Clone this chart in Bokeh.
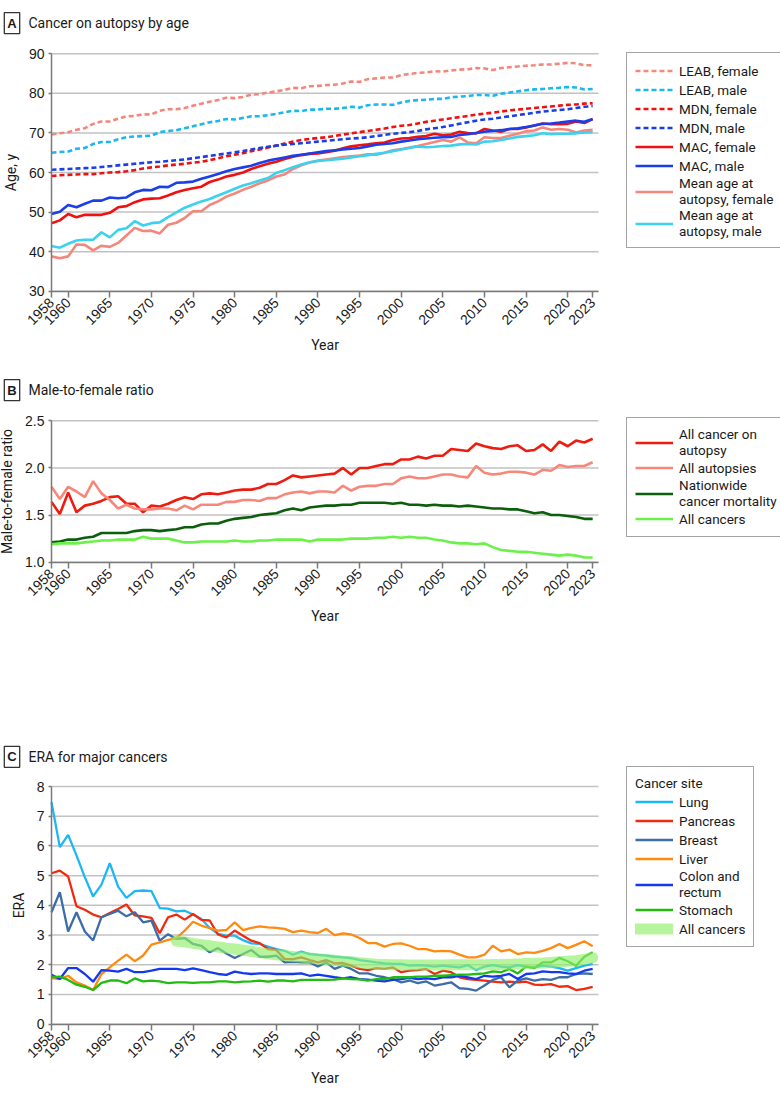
import math
from bokeh.plotting import figure
from bokeh.layouts import column
from bokeh.models import (Range1d, FixedTicker, Legend, LegendItem, Label, LinearAxis,
                          PrintfTickFormatter)
from bokeh.embed import file_html
from bokeh.resources import INLINE

# ---------------- data ----------------
years = list(range(1958, 2024))
x_ticks = [1958, 1960, 1965, 1970, 1975, 1980, 1985, 1990, 1995, 2000, 2005, 2010, 2015, 2020, 2023]

# Panel A: ages (y)
leab_female = [69.6, 69.9, 70.2, 70.8, 71.2, 72.3, 72.9, 72.9, 73.6, 74.2, 74.3, 74.7, 74.7, 75.6, 76.0, 76.0,
               76.3, 76.9, 77.4, 77.9, 78.3, 78.9, 78.8, 79.1, 79.7, 79.8, 80.2, 80.5, 80.9, 81.4, 81.3, 81.8,
               81.9, 82.1, 82.2, 82.5, 83.0, 82.9, 83.6, 83.8, 84.0, 84.0, 84.6, 84.9, 85.2, 85.3, 85.6, 85.5,
               85.8, 86.0, 86.1, 86.4, 86.3, 85.9, 86.4, 86.6, 86.8, 87.0, 87.1, 87.3, 87.3, 87.5, 87.7, 87.6,
               87.1, 87.1]
leab_male = [65.0, 65.2, 65.3, 66.0, 66.2, 67.2, 67.7, 67.7, 68.4, 68.9, 69.1, 69.2, 69.3, 70.2, 70.5, 70.7,
             71.2, 71.7, 72.2, 72.7, 73.0, 73.5, 73.4, 73.8, 74.2, 74.2, 74.5, 74.8, 75.2, 75.6, 75.5, 75.9,
             75.9, 76.1, 76.1, 76.3, 76.6, 76.4, 77.0, 77.2, 77.2, 77.1, 77.7, 78.1, 78.3, 78.4, 78.6, 78.6,
             79.0, 79.2, 79.3, 79.6, 79.6, 79.4, 79.9, 80.2, 80.5, 80.8, 81.0, 81.1, 81.3, 81.4, 81.6, 81.5,
             81.0, 81.1]
mdn_female = [59.1, 59.3, 59.4, 59.5, 59.6, 59.6, 59.8, 60.0, 60.1, 60.3, 60.6, 61.0, 61.3, 61.5, 61.8, 62.0,
              62.2, 62.5, 62.7, 63.1, 63.6, 64.1, 64.5, 64.9, 65.4, 65.8, 66.3, 66.8, 67.3, 67.8, 68.2, 68.5,
              68.7, 68.9, 69.2, 69.6, 69.9, 70.2, 70.5, 70.8, 71.1, 71.5, 71.8, 72.0, 72.4, 72.8, 73.1, 73.4,
              73.7, 74.0, 74.3, 74.6, 74.9, 75.1, 75.4, 75.7, 75.9, 76.1, 76.3, 76.5, 76.7, 76.9, 77.1, 77.2,
              77.4, 77.5]
mdn_male = [60.7, 60.8, 60.9, 61.0, 61.1, 61.2, 61.4, 61.6, 61.8, 62.0, 62.2, 62.4, 62.6, 62.7, 62.9, 63.1,
            63.3, 63.6, 63.9, 64.2, 64.5, 64.8, 65.1, 65.4, 65.8, 66.2, 66.5, 66.8, 67.0, 67.2, 67.4, 67.6,
            67.8, 68.0, 68.2, 68.4, 68.6, 68.7, 68.9, 69.2, 69.5, 69.8, 70.0, 70.2, 70.5, 70.9, 71.2, 71.5,
            71.9, 72.3, 72.7, 73.1, 73.4, 73.6, 73.9, 74.2, 74.5, 74.8, 75.1, 75.4, 75.6, 75.8, 76.0, 76.3,
            76.6, 76.8]
mac_female = [47.2, 47.9, 49.5, 48.7, 49.3, 49.3, 49.3, 49.8, 51.2, 51.5, 52.5, 53.2, 53.4, 53.5, 54.2, 55.0,
              55.6, 56.0, 56.4, 57.6, 58.2, 59.0, 59.4, 60.0, 60.9, 61.6, 62.2, 62.7, 63.4, 64.0, 64.4, 64.7,
              64.8, 65.1, 65.5, 66.1, 66.6, 66.9, 67.1, 67.4, 67.6, 68.2, 68.6, 68.7, 69.0, 69.2, 69.8, 69.4,
              69.6, 70.3, 70.0, 69.9, 71.0, 70.6, 70.3, 71.0, 71.0, 71.4, 71.9, 72.4, 72.2, 72.2, 72.3, 72.9,
              72.5, 73.5]
mac_male = [49.5, 50.1, 51.8, 51.2, 52.1, 52.9, 52.9, 53.7, 53.5, 53.7, 55.0, 55.6, 55.5, 56.4, 56.3, 57.4,
            57.5, 57.7, 58.4, 59.0, 59.6, 60.3, 60.9, 61.3, 61.7, 62.4, 63.0, 63.4, 63.8, 64.2, 64.5, 64.8,
            65.1, 65.4, 65.6, 65.8, 66.0, 66.2, 66.6, 67.0, 67.2, 67.4, 67.8, 68.1, 68.4, 68.6, 68.8, 68.9,
            69.0, 69.5, 69.7, 70.0, 70.3, 70.5, 70.7, 71.0, 71.2, 71.5, 71.9, 72.3, 72.4, 72.6, 72.9, 73.1,
            72.8, 73.5]
mean_age_female = [38.8, 38.3, 38.8, 41.8, 41.7, 40.3, 41.5, 41.2, 42.2, 44.1, 46.0, 45.2, 45.3, 44.6, 46.8, 47.3,
                   48.5, 50.2, 50.2, 51.8, 52.7, 53.9, 54.7, 55.6, 56.4, 57.3, 58.0, 59.0, 59.5, 60.9, 61.8, 62.5,
                   63.0, 63.3, 63.6, 63.9, 64.1, 64.3, 64.6, 64.5, 65.0, 65.6, 65.9, 66.3, 66.7, 67.2, 67.7, 68.2,
                   67.8, 68.9, 67.6, 67.4, 68.9, 68.7, 68.7, 69.3, 69.8, 70.4, 70.6, 71.4, 70.8, 71.0, 70.8, 70.1,
                   70.6, 70.8]
mean_age_male = [41.4, 41.0, 42.0, 42.8, 43.0, 43.0, 44.9, 43.6, 45.5, 45.9, 47.7, 46.6, 47.2, 47.4, 48.7, 49.9,
                 51.1, 51.9, 52.7, 53.3, 54.2, 55.0, 55.9, 56.7, 57.3, 58.0, 58.6, 59.9, 60.6, 61.3, 62.0, 62.6,
                 62.9, 63.1, 63.3, 63.5, 63.8, 64.1, 64.4, 64.7, 65.0, 65.4, 65.8, 66.2, 66.6, 66.4, 66.5, 66.7,
                 66.8, 67.1, 67.2, 67.1, 67.8, 67.9, 68.2, 68.6, 69.0, 69.2, 69.4, 69.9, 69.7, 69.8, 69.8, 69.9,
                 70.1, 70.2]

# Panel B: male-to-female ratio
ratio_cancer_autopsy = [1.64, 1.51, 1.74, 1.53, 1.60, 1.62, 1.65, 1.69, 1.70, 1.62, 1.62, 1.53, 1.60, 1.59, 1.62, 1.66,
                        1.69, 1.67, 1.72, 1.73, 1.72, 1.74, 1.76, 1.77, 1.77, 1.79, 1.83, 1.83, 1.87, 1.92, 1.90, 1.91,
                        1.92, 1.93, 1.94, 2.00, 1.93, 2.00, 2.00, 2.02, 2.04, 2.04, 2.09, 2.09, 2.12, 2.10, 2.13, 2.13,
                        2.20, 2.19, 2.18, 2.26, 2.23, 2.21, 2.20, 2.23, 2.24, 2.18, 2.19, 2.25, 2.18, 2.28, 2.23, 2.29,
                        2.27, 2.31]
ratio_all_autopsies = [1.80, 1.67, 1.80, 1.75, 1.69, 1.86, 1.73, 1.66, 1.57, 1.61, 1.57, 1.56, 1.56, 1.57, 1.57, 1.55,
                       1.60, 1.56, 1.61, 1.61, 1.61, 1.64, 1.64, 1.66, 1.66, 1.65, 1.68, 1.68, 1.72, 1.74, 1.75, 1.73,
                       1.75, 1.75, 1.74, 1.81, 1.76, 1.80, 1.81, 1.81, 1.83, 1.83, 1.89, 1.91, 1.89, 1.89, 1.91, 1.93,
                       1.93, 1.91, 1.90, 2.02, 1.95, 1.93, 1.94, 1.96, 1.96, 1.95, 1.93, 1.98, 1.97, 2.03, 2.01, 2.02,
                       2.02, 2.06]
ratio_nationwide = [1.21, 1.22, 1.24, 1.24, 1.26, 1.27, 1.31, 1.31, 1.31, 1.31, 1.33, 1.34, 1.34, 1.33, 1.34, 1.35,
                    1.37, 1.37, 1.40, 1.41, 1.41, 1.44, 1.46, 1.47, 1.48, 1.50, 1.51, 1.52, 1.55, 1.57, 1.55, 1.58,
                    1.59, 1.60, 1.60, 1.61, 1.61, 1.63, 1.63, 1.63, 1.63, 1.62, 1.63, 1.61, 1.61, 1.60, 1.61, 1.60,
                    1.60, 1.59, 1.60, 1.59, 1.58, 1.57, 1.57, 1.56, 1.56, 1.54, 1.52, 1.53, 1.50, 1.50, 1.49, 1.48,
                    1.46, 1.46]
ratio_all_cancers = [1.19, 1.20, 1.20, 1.20, 1.21, 1.22, 1.23, 1.23, 1.24, 1.24, 1.24, 1.27, 1.25, 1.25, 1.25, 1.23,
                     1.21, 1.21, 1.22, 1.22, 1.22, 1.22, 1.23, 1.22, 1.22, 1.23, 1.23, 1.24, 1.24, 1.24, 1.24, 1.22,
                     1.24, 1.24, 1.24, 1.24, 1.25, 1.25, 1.25, 1.26, 1.26, 1.27, 1.26, 1.27, 1.26, 1.26, 1.24, 1.23,
                     1.21, 1.20, 1.20, 1.19, 1.20, 1.16, 1.13, 1.12, 1.11, 1.11, 1.10, 1.09, 1.08, 1.07, 1.08, 1.07,
                     1.05, 1.05]

# Panel C: ERA
era_lung = [7.47, 5.96, 6.37, 5.68, 4.95, 4.30, 4.70, 5.42, 4.63, 4.25, 4.48, 4.50, 4.48, 3.91, 3.89, 3.80,
            3.82, 3.69, 3.54, 3.24, 3.04, 2.98, 2.98, 2.83, 2.72, 2.70, 2.61, 2.53, 2.47, 2.34, 2.44, 2.36,
            2.33, 2.31, 2.27, 2.25, 2.22, 2.16, 2.12, 2.08, 2.05, 2.03, 2.03, 1.97, 1.99, 1.97, 1.94, 1.97,
            1.94, 1.91, 1.99, 1.82, 1.94, 1.99, 1.94, 1.91, 1.99, 1.94, 1.91, 1.97, 1.94, 1.89, 1.80, 1.89,
            1.97, 2.03]
era_pancreas = [5.08, 5.17, 4.97, 3.97, 3.85, 3.69, 3.60, 3.74, 3.88, 4.03, 3.66, 3.63, 3.58, 3.06, 3.60, 3.69,
                3.52, 3.71, 3.51, 3.49, 3.02, 2.92, 3.15, 2.98, 2.81, 2.73, 2.53, 2.50, 2.19, 2.19, 2.25, 2.16,
                2.08, 2.16, 2.05, 2.06, 1.97, 1.86, 1.82, 1.89, 1.86, 1.91, 1.75, 1.80, 1.82, 1.86, 1.69, 1.80,
                1.75, 1.58, 1.52, 1.49, 1.47, 1.43, 1.41, 1.43, 1.41, 1.43, 1.33, 1.32, 1.35, 1.26, 1.28, 1.15,
                1.19, 1.26]
era_breast = [3.77, 4.44, 3.12, 3.77, 3.12, 2.82, 3.60, 3.71, 3.82, 3.63, 3.77, 3.43, 3.49, 2.81, 3.03, 2.87,
              2.90, 2.70, 2.64, 2.42, 2.56, 2.38, 2.23, 2.36, 2.50, 2.27, 2.27, 2.31, 2.08, 2.10, 2.08, 2.08,
              1.94, 2.08, 1.86, 1.97, 1.86, 1.71, 1.71, 1.63, 1.58, 1.52, 1.41, 1.47, 1.38, 1.44, 1.30, 1.35,
              1.41, 1.21, 1.19, 1.13, 1.30, 1.49, 1.58, 1.24, 1.47, 1.54, 1.47, 1.52, 1.49, 1.58, 1.58, 1.69,
              1.71, 1.69]
era_liver = [1.55, 1.52, 1.63, 1.41, 1.30, 1.15, 1.69, 1.91, 2.14, 2.34, 2.12, 2.31, 2.68, 2.75, 2.84, 2.90,
             3.15, 3.45, 3.32, 3.23, 3.15, 3.17, 3.43, 3.17, 3.24, 3.29, 3.26, 3.24, 3.21, 3.10, 3.15, 3.10,
             3.07, 3.21, 3.00, 3.06, 3.02, 2.90, 2.73, 2.73, 2.61, 2.70, 2.72, 2.64, 2.53, 2.53, 2.45, 2.47,
             2.45, 2.34, 2.25, 2.25, 2.34, 2.64, 2.45, 2.51, 2.36, 2.42, 2.40, 2.47, 2.56, 2.70, 2.56, 2.67,
             2.79, 2.62]
era_colon = [1.66, 1.52, 1.89, 1.89, 1.69, 1.43, 1.82, 1.80, 1.77, 1.86, 1.75, 1.75, 1.80, 1.86, 1.86, 1.86,
             1.82, 1.88, 1.82, 1.75, 1.69, 1.66, 1.77, 1.72, 1.69, 1.71, 1.71, 1.69, 1.69, 1.69, 1.71, 1.63,
             1.67, 1.63, 1.58, 1.54, 1.58, 1.52, 1.50, 1.47, 1.44, 1.49, 1.52, 1.56, 1.52, 1.54, 1.52, 1.58,
             1.58, 1.63, 1.58, 1.52, 1.63, 1.60, 1.63, 1.69, 1.52, 1.69, 1.71, 1.78, 1.75, 1.75, 1.71, 1.69,
             1.80, 1.86]
era_stomach = [1.58, 1.60, 1.49, 1.33, 1.26, 1.15, 1.39, 1.47, 1.47, 1.38, 1.54, 1.44, 1.47, 1.44, 1.38, 1.41,
               1.41, 1.39, 1.41, 1.41, 1.44, 1.44, 1.41, 1.43, 1.44, 1.47, 1.43, 1.47, 1.47, 1.44, 1.49, 1.49,
               1.49, 1.49, 1.50, 1.54, 1.52, 1.51, 1.47, 1.52, 1.52, 1.58, 1.58, 1.58, 1.60, 1.60, 1.63, 1.63,
               1.65, 1.67, 1.67, 1.69, 1.71, 1.78, 1.75, 1.86, 1.71, 1.94, 1.89, 2.08, 2.08, 2.23, 2.12, 1.97,
               2.27, 2.42]
era_all_years = list(range(1973, 2024))
era_all_cancers = [2.80, 2.77, 2.72, 2.68, 2.64, 2.60, 2.56, 2.53, 2.49, 2.45, 2.41, 2.37, 2.34, 2.31, 2.28, 2.26,
                   2.23, 2.20, 2.18, 2.15, 2.12, 2.10, 2.07, 2.04, 2.02, 2.01, 2.00, 2.00, 1.99, 1.99, 1.99, 1.99,
                   1.99, 2.00, 2.00, 2.00, 2.00, 2.00, 2.01, 2.01, 2.02, 2.03, 2.04, 2.05, 2.06, 2.08, 2.10, 2.12,
                   2.14, 2.18, 2.24]

# ---------------- layout & styling ----------------
TXT = "Roboto"
NUM = "Liberation Sans"
INK = "#1a1a1a"
X_START, X_END = 1958, 2023.7          # plotted year span
AX_LEFT, AX_RIGHT = 51, 598            # pixel position of the plotted span
K = (AX_RIGHT - AX_LEFT) / (X_END - X_START)
X0 = X_START - AX_LEFT / K
X1 = X_START + (780 - AX_LEFT) / K


class Panel:
    def __init__(self, height, top_px, bottom_px, ylo, yhi, yticks, ylabel, fmt=None):
        self.h = height
        self.ky = (bottom_px - top_px) / (yhi - ylo)
        self.ytop = yhi + top_px / self.ky
        p = figure(width=780, height=height, output_backend="svg", toolbar_location=None,
                   x_range=Range1d(X0, X1), y_range=Range1d(ylo - (height - bottom_px) / self.ky, self.ytop),
                   x_axis_location=None, y_axis_location=None, min_border=0)
        p.outline_line_color = None
        p.xgrid.visible = False
        p.ygrid.visible = False
        n = len(yticks)
        p.segment(x0=[X_START] * n, x1=[X_END] * n, y0=yticks, y1=yticks,
                  line_color="#c2c2c2", line_width=1.5)
        xa = LinearAxis(fixed_location=ylo, bounds=(X_START, X_END), ticker=FixedTicker(ticks=x_ticks),
                        axis_label="Year", major_label_orientation=math.pi / 4)
        ya = LinearAxis(fixed_location=X_START, bounds=(ylo, yhi), ticker=FixedTicker(ticks=yticks),
                        axis_label=ylabel)
        if fmt:
            ya.formatter = PrintfTickFormatter(format=fmt)
        for ax in (xa, ya):
            ax.axis_line_color = "#7a7a7a"
            ax.axis_line_width = 1.5
            ax.major_tick_line_color = "#7a7a7a"
            ax.major_tick_line_width = 1.5
            ax.minor_tick_line_color = None
            ax.major_tick_in = 0
            ax.major_label_text_font = NUM
            ax.major_label_text_font_size = "14px"
            ax.major_label_text_color = INK
            ax.axis_label_text_font = TXT
            ax.axis_label_text_font_size = "14px"
            ax.axis_label_text_font_style = "normal"
            ax.axis_label_text_color = INK
        xa.major_tick_out = 6
        ya.major_tick_out = 3
        xa.major_label_standoff = 3
        ya.major_label_standoff = 4
        xa.axis_label_standoff = 4
        ya.axis_label_standoff = 7
        p.add_layout(xa, "below")
        p.add_layout(ya, "left")
        self.p = p

    def xd(self, px):
        return X0 + px / K

    def yd(self, py):
        return self.ytop - py / self.ky

    def title(self, cy, letter, text):
        self.p.add_layout(Label(x=self.xd(11.5), y=self.yd(cy), text=letter, text_align="center",
                                text_baseline="middle", text_font=NUM, text_font_style="bold",
                                text_font_size="13px", text_color=INK, border_line_color="#333333",
                                border_line_width=1.3, background_fill_color="white", padding=3))
        self.p.add_layout(Label(x=self.xd(28), y=self.yd(cy), text=text, text_align="left",
                                text_baseline="middle", text_font=TXT, text_font_size="14px",
                                text_color=INK))

    def legend(self, pairs, left_px, bottom_px, title=None):
        leg = Legend(items=[LegendItem(label=l, renderers=[r]) for l, r in pairs],
                     location=(left_px, self.h - bottom_px), orientation="vertical",
                     padding=8, spacing=0, margin=0,
                     glyph_width=38, glyph_height=19, label_height=19, label_standoff=6,
                     label_text_font=TXT, label_text_font_size="13.5px", label_text_color=INK,
                     label_text_line_height=1.15,
                     border_line_color="#4a4a4a", border_line_width=1.2, background_fill_alpha=1.0)
        if title:
            leg.title = title
            leg.title_text_font = TXT
            leg.title_text_font_size = "13.5px"
            leg.title_text_font_style = "normal"
            leg.title_text_color = INK
            leg.title_standoff = 1
        self.p.add_layout(leg)


LW = 2.6
DASH = "5 3"

# ---------------- Panel A ----------------
A = Panel(355, 53.3, 290.7, 30, 90, [30, 40, 50, 60, 70, 80, 90], "Age, y")
pa = A.p
rA = [
    ("LEAB, female", pa.line(years, leab_female, line_color="#f4877b", line_width=LW, line_dash=DASH)),
    ("LEAB, male", pa.line(years, leab_male, line_color="#1cb6f0", line_width=LW, line_dash=DASH)),
    ("MDN, female", pa.line(years, mdn_female, line_color="#f01010", line_width=LW, line_dash=DASH)),
    ("MDN, male", pa.line(years, mdn_male, line_color="#1a3fe8", line_width=LW, line_dash=DASH)),
    ("MAC, female", pa.line(years, mac_female, line_color="#f01010", line_width=LW)),
    ("MAC, male", pa.line(years, mac_male, line_color="#1a3fe8", line_width=LW)),
    ("Mean age at\nautopsy, female", pa.line(years, mean_age_female, line_color="#f4877b", line_width=LW)),
    ("Mean age at\nautopsy, male", pa.line(years, mean_age_male, line_color="#3ad2f0", line_width=LW)),
]
A.legend(rA, 626, 248)
A.title(22.7, "A", "Cancer on autopsy by age")

# ---------------- Panel B ----------------
B = Panel(380, 65.3, 206.7, 1.0, 2.5, [1.0, 1.5, 2.0, 2.5], "Male-to-female ratio", fmt="%.1f")
pb = B.p
rB = [
    ("All cancer on\nautopsy", pb.line(years, ratio_cancer_autopsy, line_color="#ee1c0e", line_width=LW)),
    ("All autopsies", pb.line(years, ratio_all_autopsies, line_color="#f7877a", line_width=LW)),
    ("Nationwide\ncancer mortality", pb.line(years, ratio_nationwide, line_color="#0b5e0b", line_width=LW)),
    ("All cancers", pb.line(years, ratio_all_cancers, line_color="#6cf04a", line_width=LW)),
]
B.legend(rB, 626, 182)
B.title(34.7, "B", "Male-to-female ratio")

# ---------------- Panel C ----------------
C = Panel(359, 51, 288.7, 0, 8, [0, 1, 2, 3, 4, 5, 6, 7, 8], "ERA")
pc = C.p
LC = 2.3
rC = [
    ("Lung", pc.line(years, era_lung, line_color="#1db8f2", line_width=LC)),
    ("Pancreas", pc.line(years, era_pancreas, line_color="#f02a10", line_width=LC)),
    ("Breast", pc.line(years, era_breast, line_color="#3d6da8", line_width=LC)),
    ("Liver", pc.line(years, era_liver, line_color="#ff8a10", line_width=LC)),
    ("Colon and\nrectum", pc.line(years, era_colon, line_color="#1438f0", line_width=LC)),
    ("Stomach", pc.line(years, era_stomach, line_color="#22bb10", line_width=LC)),
    ("All cancers", pc.line(era_all_years, era_all_cancers, line_color="#8ff06a", line_width=11,
                            line_alpha=0.65, line_cap="round", line_join="round")),
]
C.legend(rC, 626, 212, title="Cancer site")
C.title(21.3, "C", "ERA for major cancers")

layout = column(pa, pb, pc, spacing=0)
open("out.html", "w").write(file_html(layout, INLINE))
